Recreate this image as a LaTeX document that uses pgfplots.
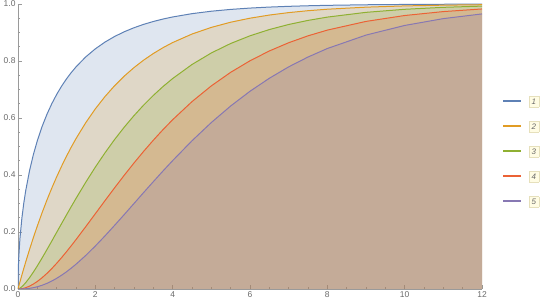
\documentclass[border=0pt]{standalone}
\usepackage{pgfplots}
\usepackage{pgfplotstable}
\pgfplotsset{compat=1.18}
\usepackage{fontspec}
\setmainfont{Liberation Sans}
\definecolor{c1}{HTML}{5E81B5}
\definecolor{c2}{HTML}{E19C24}
\definecolor{c3}{HTML}{8FB032}
\definecolor{c4}{HTML}{EB6235}
\definecolor{c5}{HTML}{8778B3}
\definecolor{axgray}{HTML}{9A9A9A}
\definecolor{lblgray}{HTML}{6A6A6A}
\definecolor{boxfill}{HTML}{FFFCE4}
\definecolor{boxline}{HTML}{E6E0BC}
\newcommand{\lbox}[1]{\hspace*{5bp}{\setlength{\fboxsep}{2.5bp}\setlength{\fboxrule}{0.4bp}\fcolorbox{boxline}{boxfill}{\fontsize{8}{9}\selectfont\itshape\color{lblgray}#1}}}
\pgfplotstableread{
x k1 k2 k3 k4 k5
0 0 0 0 0 0
0.0005 0.0178 0.0002 0 0 0
0.002 0.0357 0.0010 0 0 0
0.005 0.0564 0.0025 0.0001 0 0
0.01 0.0797 0.0050 0.0003 0 0
0.02 0.1125 0.0100 0.0007 0 0
0.05 0.1769 0.0247 0.0029 0.0003 0
0.1 0.2482 0.0488 0.0082 0.0012 0.0002
0.15 0.3015 0.0723 0.0148 0.0027 0.0005
0.2 0.3453 0.0952 0.0224 0.0047 0.0009
0.3 0.4161 0.1393 0.0400 0.0102 0.0024
0.4 0.4729 0.1813 0.0598 0.0176 0.0047
0.5 0.5205 0.2212 0.0811 0.0265 0.0079
0.625 0.5708 0.2684 0.1093 0.0398 0.0132
0.75 0.6135 0.3127 0.1386 0.0550 0.0199
0.875 0.6504 0.3544 0.1685 0.0719 0.0280
1 0.6827 0.3935 0.1988 0.0902 0.0374
1.125 0.7112 0.4302 0.2290 0.1097 0.0482
1.25 0.7364 0.4647 0.2589 0.1302 0.0599
1.375 0.7590 0.4972 0.2886 0.1515 0.0730
1.5 0.7793 0.5276 0.3177 0.1733 0.0869
1.75 0.8141 0.5831 0.3741 0.2183 0.1174
2 0.8427 0.6321 0.4276 0.2642 0.1509
2.25 0.8664 0.6753 0.4778 0.3101 0.1864
2.5 0.8862 0.7135 0.5248 0.3554 0.2236
2.75 0.9027 0.7472 0.5682 0.3995 0.2615
3 0.9167 0.7769 0.6083 0.4422 0.3000
3.25 0.9286 0.8031 0.6454 0.4831 0.3386
3.5 0.9386 0.8262 0.6792 0.5221 0.3766
3.75 0.9472 0.8467 0.7103 0.5592 0.4141
4 0.9545 0.8647 0.7385 0.5940 0.4505
4.5 0.9661 0.8946 0.7877 0.6575 0.5201
5 0.9747 0.9179 0.8282 0.7127 0.5841
5.5 0.9810 0.9361 0.8614 0.7603 0.6421
6 0.9857 0.9502 0.8884 0.8008 0.6938
6.5 0.9892 0.9612 0.9103 0.8352 0.7394
7 0.9918 0.9698 0.9281 0.8641 0.7794
7.5 0.9938 0.9765 0.9424 0.8883 0.8139
8 0.9953 0.9817 0.9540 0.9084 0.8438
9 0.9973 0.9889 0.9707 0.9389 0.8909
10 0.9984 0.9933 0.9814 0.9596 0.9247
11 0.9991 0.9959 0.9883 0.9734 0.9487
12 0.9995 0.9975 0.9926 0.9826 0.9652
}\datatab
\begin{document}
\begin{tikzpicture}
\begin{axis}[
  scale only axis,
  width=464bp, height=285bp,
  xmin=0, xmax=12, ymin=0, ymax=1,
  axis lines*=left,
  axis line style={axgray, line width=0.8bp},
  tick align=inside,
  major tick length=4bp, minor tick length=2.2bp,
  tick style={axgray, line width=0.6bp},
  xtick={0,2,...,12}, ytick={0,0.2,...,1},
  minor x tick num=3, minor y tick num=3,
  tick label style={font=\fontsize{8.5}{10}\selectfont, text=lblgray},
  /pgf/number format/assume math mode=true,
  yticklabel style={/pgf/number format/fixed, /pgf/number format/fixed zerofill, /pgf/number format/precision=1},
  xticklabel style={/pgf/number format/fixed},
  xticklabel shift=-1bp,
  yticklabel shift=-1bp,
  clip=true,
  legend style={at={(1,0.484)}, anchor=west, xshift=20bp, draw=none, fill=none,
    row sep=11.2bp, font=\fontsize{8}{9}\selectfont, inner sep=0pt},
  legend cell align=left,
  legend image code/.code={\draw[#1, line width=1.6bp, opacity=1] (0bp,0bp) -- (18bp,0bp);},
]
\coordinate (ll) at (rel axis cs:0,0);
\coordinate (ur) at (rel axis cs:1,1);
\addplot[draw=none, fill=c1, fill opacity=0.2, forget plot] table[x=x, y=k1] {\datatab} \closedcycle;
\addplot[draw=none, fill=c2, fill opacity=0.2, forget plot] table[x=x, y=k2] {\datatab} \closedcycle;
\addplot[draw=none, fill=c3, fill opacity=0.2, forget plot] table[x=x, y=k3] {\datatab} \closedcycle;
\addplot[draw=none, fill=c4, fill opacity=0.2, forget plot] table[x=x, y=k4] {\datatab} \closedcycle;
\addplot[draw=none, fill=c5, fill opacity=0.2, forget plot] table[x=x, y=k5] {\datatab} \closedcycle;
\addplot[draw=c1, line width=1bp] table[x=x, y=k1] {\datatab};
\addlegendentry{\lbox{1}}
\addplot[draw=c2, line width=1bp] table[x=x, y=k2] {\datatab};
\addlegendentry{\lbox{2}}
\addplot[draw=c3, line width=1bp] table[x=x, y=k3] {\datatab};
\addlegendentry{\lbox{3}}
\addplot[draw=c4, line width=1bp] table[x=x, y=k4] {\datatab};
\addlegendentry{\lbox{4}}
\addplot[draw=c5, line width=1bp] table[x=x, y=k5] {\datatab};
\addlegendentry{\lbox{5}}
\end{axis}
\pgfresetboundingbox
\path ([xshift=-18bp,yshift=-14bp]ll) rectangle ([xshift=58bp,yshift=4bp]ur);
\end{tikzpicture}
\end{document}
